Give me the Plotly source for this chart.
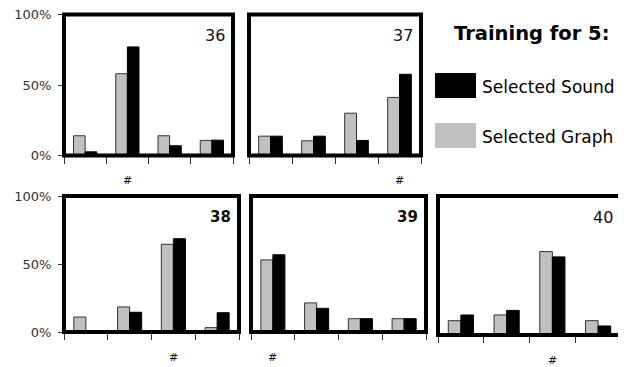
import plotly.graph_objects as go

# The page puts the figure 8 px in from the window's top-left corner,
# so the figure is drawn 8 px smaller and every target pixel is offset by 8.
OFF = 8
W, H = 626 - OFF, 367 - OFF

# ---------------- data ----------------
categories = [1, 2, 3, 4]
panel_labels = ["36", "37", "38", "39", "40"]
panel_label_bold = [False, False, True, True, False]
correct_category = [2, 4, 3, 1, 3]          # category marked with "#"

graph_36 = [0.14, 0.58, 0.14, 0.107]
sound_36 = [0.026, 0.77, 0.069, 0.109]
graph_37 = [0.137, 0.104, 0.30, 0.412]
sound_37 = [0.137, 0.137, 0.107, 0.576]
graph_38 = [0.11, 0.184, 0.645, 0.032]
sound_38 = [0.0, 0.145, 0.686, 0.142]
graph_39 = [0.53, 0.214, 0.098, 0.098]
sound_39 = [0.568, 0.174, 0.098, 0.098]
graph_40 = [0.103, 0.144, 0.60, 0.103]
sound_40 = [0.144, 0.177, 0.562, 0.065]

graph_series = [graph_36, graph_37, graph_38, graph_39, graph_40]
sound_series = [sound_36, sound_37, sound_38, sound_39, sound_40]

series_names = ["Selected Sound", "Selected Graph"]
legend_title = "Training for 5:"
y_tickvals = [0, 0.5, 1]
y_ticktext = ["0%", "50%", "100%"]


def fx(px):
    return (px - OFF) / W


def fy(py):
    return 1 - (py - OFF) / H


# ---------------- layout (pixel frames of each panel, window coords) ----------------
frames_px = [(64, 233, 14.5, 155.5), (249, 421, 14.5, 155.5),
             (64, 239, 196, 332), (251, 426, 196, 332), (438, 621, 196, 335)]
left_panels = [0, 2]

GRAY = "#c0c0c0"
FONT = "DejaVu Sans"

fig = go.Figure()
layout = dict(
    width=W, height=H, margin=dict(l=0, r=0, t=0, b=0, autoexpand=False),
    paper_bgcolor="white", plot_bgcolor="white",
    barmode="group", bargap=0.45, bargroupgap=0.0,
    showlegend=False, font=dict(family=FONT, color="#222"),
)
shapes, annotations = [], []

for i, (x0, x1, yt, yb) in enumerate(frames_px):
    n = "" if i == 0 else str(i + 1)
    xa, ya = "x" + n, "y" + n
    fig.add_trace(go.Bar(x=categories, y=graph_series[i], name=series_names[1],
                         marker=dict(color=GRAY, line=dict(color="#333", width=1)),
                         xaxis=xa, yaxis=ya, hoverinfo="skip"))
    fig.add_trace(go.Bar(x=categories, y=sound_series[i], name=series_names[0],
                         marker=dict(color="black", line=dict(color="black", width=1)),
                         xaxis=xa, yaxis=ya, hoverinfo="skip"))
    layout["xaxis" + n] = dict(
        domain=[fx(x0), fx(x1)], range=[0.5, 4.5], anchor=ya, automargin=False,
        tickvals=[c - 0.5 for c in categories] + [categories[-1] + 0.5],
        ticks="outside", ticklen=7, tickwidth=1, tickcolor="#333",
        showticklabels=False, showgrid=False, zeroline=False, showline=False,
    )
    yax = dict(
        domain=[fy(yb), fy(yt)], range=[0, 1], anchor=xa, automargin=False,
        showgrid=False, zeroline=False, showline=False,
    )
    if i in left_panels:
        yax.update(tickvals=y_tickvals, ticktext=y_ticktext, ticks="outside",
                   ticklen=5, tickwidth=1, tickcolor="#333", ticklabelstandoff=4,
                   ticklabeloverflow="allow",
                   tickfont=dict(family=FONT, size=13, color="#333"))
    else:
        yax.update(showticklabels=False, ticks="")
    layout["yaxis" + n] = yax

    shapes.append(dict(type="rect", xref=xa + " domain", yref=ya + " domain",
                       x0=0, x1=1, y0=0, y1=1, line=dict(color="black", width=4),
                       layer="above"))
    lab = panel_labels[i]
    annotations.append(dict(
        xref=xa + " domain", yref=ya + " domain", x=1, y=1,
        xanchor="right", yanchor="top", xshift=-6, yshift=-10, showarrow=False,
        text=("<b>%s</b>" % lab) if panel_label_bold[i] else lab,
        font=dict(family=FONT, size=16 if not panel_label_bold[i] else 15, color="#111")))
    annotations.append(dict(
        xref=xa, yref=ya + " domain", x=correct_category[i], y=0,
        yanchor="middle", yshift=-25, showarrow=False, text="#",
        font=dict(family=FONT, size=11, color="#111")))

# custom legend
annotations.append(dict(xref="paper", yref="paper", x=fx(531), y=fy(33),
                        xanchor="center", yanchor="middle", showarrow=False,
                        text="<b>%s</b>" % legend_title,
                        font=dict(family=FONT, size=19.5, color="black")))
legend_items = [(series_names[0], "black", 73, 98, 87),
                (series_names[1], GRAY, 123, 148, 137)]
for name, col, ry0, ry1, ty in legend_items:
    shapes.append(dict(type="rect", xref="paper", yref="paper",
                       x0=fx(435), x1=fx(476), y0=fy(ry1), y1=fy(ry0),
                       fillcolor=col, line=dict(width=0)))
    annotations.append(dict(xref="paper", yref="paper", x=fx(480), y=fy(ty),
                            xanchor="left", yanchor="middle", showarrow=False,
                            text=name, font=dict(family=FONT, size=17, color="black")))

layout["shapes"] = shapes
layout["annotations"] = annotations
fig.update_layout(**layout)
fig.write_html("out.html")
